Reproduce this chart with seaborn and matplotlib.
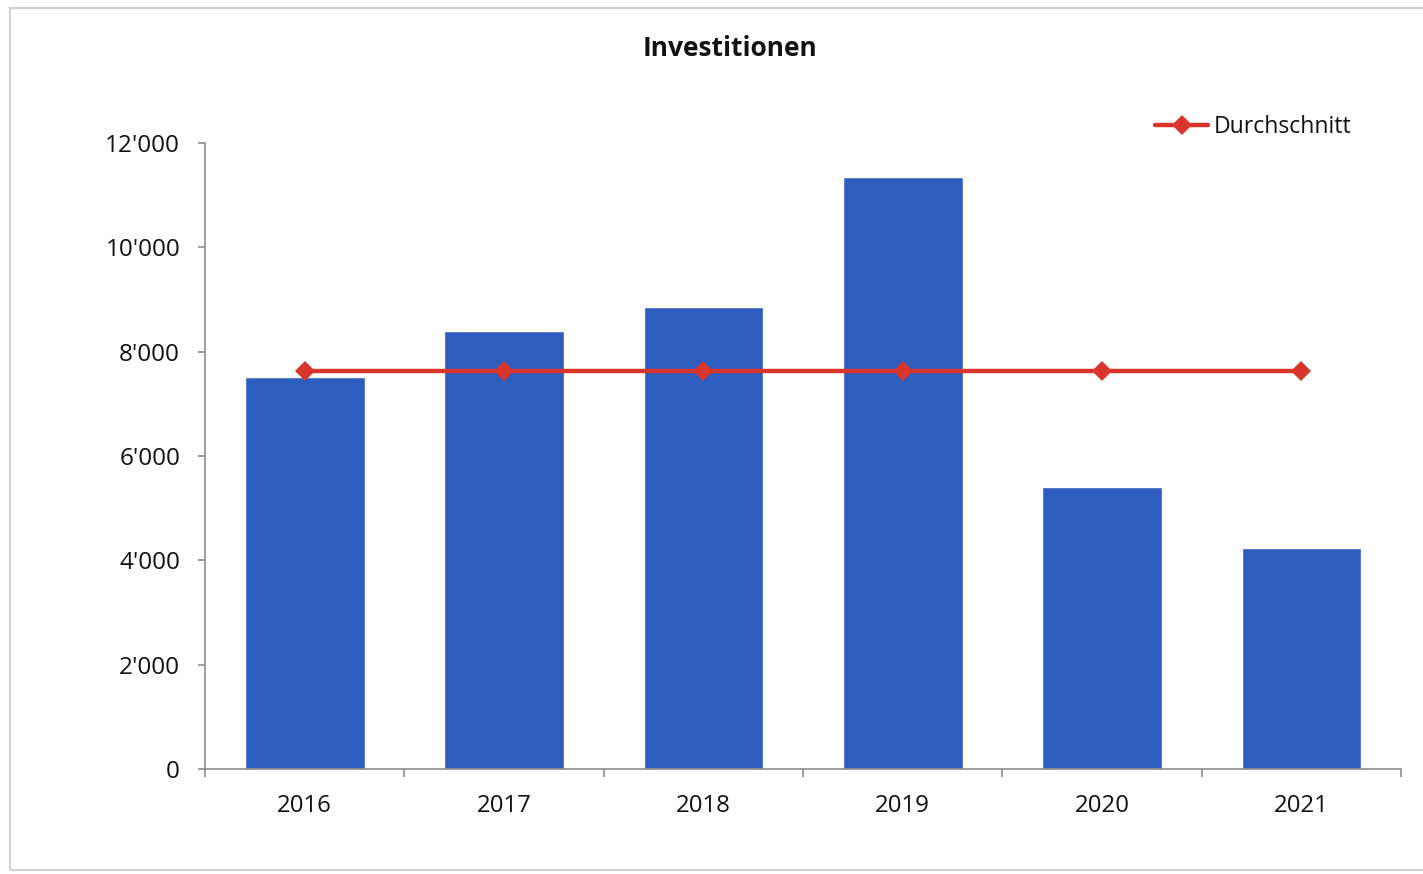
"""
plot.py -
    Investitionen per Jahr als Balken, mit Durchschnittslinie.
"""

import numpy as np
import seaborn as sns
import matplotlib.pyplot as plt
from matplotlib.patches import Rectangle
from matplotlib.ticker import FuncFormatter, FixedLocator

# Data
jahre = ["2016", "2017", "2018", "2019", "2020", "2021"]
investitionen = [7510, 8390, 8850, 11340, 5400, 4230]
durchschnitt = [7620, 7620, 7620, 7620, 7620, 7620]

BAR_COLOR = "#2D5DBF"
LINE_COLOR = "#D8352C"
AXIS_COLOR = "#8C8C8C"
TEXT_COLOR = "#111111"

sns.set_style("white")
plt.rcParams["font.family"] = ["Open Sans", "DejaVu Sans"]

fig = plt.figure(figsize=(14.23, 8.74), dpi=100)
ax = fig.add_axes([0.1441, 0.1201, 0.8405, 0.7163])

# Bars
sns.barplot(x=jahre, y=investitionen, color=BAR_COLOR, width=0.6,
            saturation=1, ax=ax)

# Average line
sns.lineplot(x=np.arange(len(jahre)), y=durchschnitt, color=LINE_COLOR,
             linewidth=3.2, marker="D", markersize=10, markeredgewidth=0,
             label="Durchschnitt", ax=ax)

ax.set_xlim(-0.5, len(jahre) - 0.5)
ax.set_ylim(0, 12000)
ax.set_yticks(range(0, 12001, 2000))
ax.yaxis.set_major_formatter(FuncFormatter(lambda v, _: f"{int(v):,}".replace(",", "'")))

# Category boundary ticks on the x axis
ax.xaxis.set_minor_locator(FixedLocator(np.arange(-0.5, len(jahre), 1.0)))
ax.tick_params(axis="x", which="major", length=0, pad=18, labelsize=17.3,
               labelcolor=TEXT_COLOR)
ax.tick_params(axis="x", which="minor", length=6, width=1.2, color=AXIS_COLOR,
               direction="out", bottom=True)
ax.tick_params(axis="y", length=5, width=1.2, color=AXIS_COLOR, direction="out",
               pad=13, labelsize=17.5, labelcolor=TEXT_COLOR, left=True)
ax.set_xlabel("")
ax.set_ylabel("")

for side in ["top", "right"]:
    ax.spines[side].set_visible(False)
for side in ["left", "bottom"]:
    ax.spines[side].set_color(AXIS_COLOR)
    ax.spines[side].set_linewidth(1.2)

# Legend top right
leg = ax.legend(loc="center left", bbox_to_anchor=(1155 / 1423, 1 - 127 / 874),
                bbox_transform=fig.transFigure, frameon=False, fontsize=16.6,
                handlelength=2.3, handletextpad=0.25, borderpad=0, borderaxespad=0)
for t in leg.get_texts():
    t.set_color(TEXT_COLOR)

# Title
fig.text(730 / 1423, 1 - 48 / 874, "Investitionen", ha="center", va="center",
         fontsize=19, fontweight="bold", color=TEXT_COLOR)

# Light chart frame
fig.patches.append(Rectangle((10 / 1423, 4 / 874), 1.0, 1 - 12 / 874,
                             transform=fig.transFigure, fill=False,
                             edgecolor="#D0D0D0", linewidth=1.5))

plt.savefig("out.png", dpi=100)
plt.close()
